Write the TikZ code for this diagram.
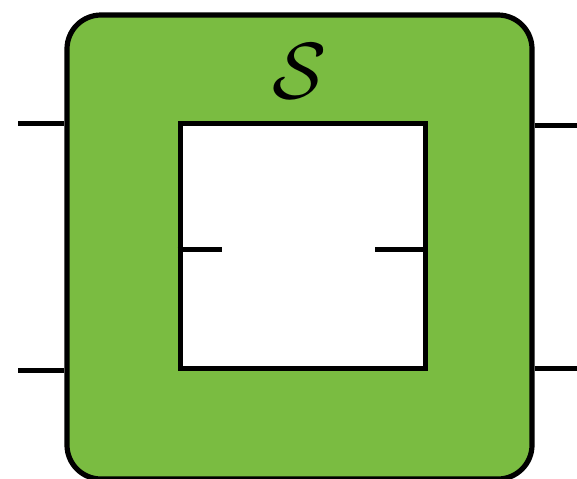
\documentclass[tikz,border=0pt]{standalone}
\usepackage{amsmath, amssymb}
\usepackage{graphicx}
\usepackage{tikz}
\usepackage{xcolor}
\usetikzlibrary{positioning, calc}
\definecolor{boxgreen}{RGB}{122,188,65}

\begin{document}
\begin{tikzpicture}[
    x=0.5pt, y=-0.5pt,
    wire/.style={line width=2.5pt},
    combbox/.style={draw, line width=2.6pt, fill=boxgreen, rounded corners=17pt,
                    minimum width=232.5pt, minimum height=232pt, inner sep=0pt},
    hole/.style={draw, line width=2.5pt, fill=white,
                 minimum size=122.5pt, inner sep=0pt}
]
\useasboundingbox (0,0) rectangle (577,478);
\begin{scope}
\clip (0,0) rectangle (577,478);
% supermap box and hole
\node[combbox] (S) at (299.5,247) {};
\node[hole] (H) at (302.5,245.5) {};
\node[font=\Huge] (lab) at (300,71) {\scalebox{1.6}{$\mathcal{S}$}};
% outer wires
\coordinate (inA) at (18,123);
\coordinate (inB) at (18,370);
\coordinate (outA) at (577,125);
\coordinate (outB) at (577,368);
\draw[wire] (inA) -- (inA -| S.west);
\draw[wire] (inB) -- (inB -| S.west);
\draw[wire] (outA -| S.east) -- (outA);
\draw[wire] (outB -| S.east) -- (outB);
% wires into the hole
\coordinate (hin) at (222,249);
\coordinate (hout) at (375,249);
\draw[wire] (hin -| H.west) -- (hin);
\draw[wire] (hout) -- (hout -| H.east);
\end{scope}
\end{tikzpicture}
\end{document}
